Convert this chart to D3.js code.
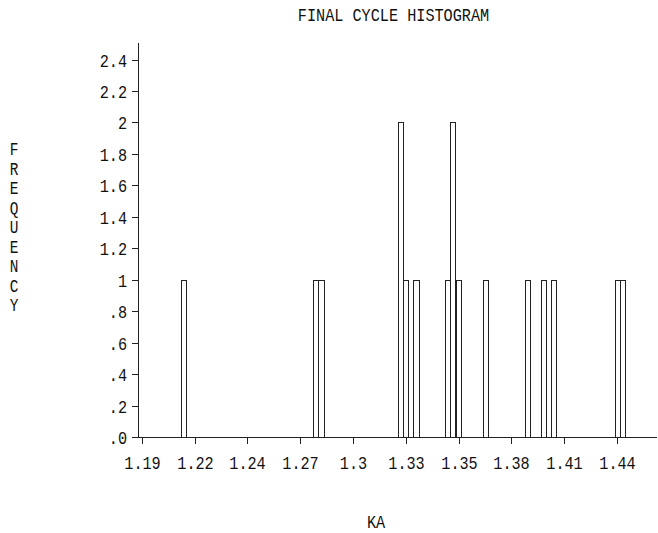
<!DOCTYPE html>
<html>
<head>
<meta charset="utf-8">
<script src="https://cdn.jsdelivr.net/npm/d3@7"></script>
<style>
  html, body { margin: 0; padding: 0; background: #fff; }
  svg { display: block; }
  text { font-family: "Liberation Mono", "DejaVu Sans Mono", monospace; fill: #111; }
</style>
</head>
<body>
<svg id="chart" width="658" height="533"></svg>
<script>
// Histogram bins: left edge of each bin (KA) and the number of cycles in it
const binStart = [1.2093, 1.2781, 1.2809, 1.3223, 1.3251, 1.3304, 1.3467, 1.3496, 1.3525,
                  1.3665, 1.3886, 1.3969, 1.4021, 1.4353, 1.4381];
const binCount = [1, 1, 1, 2, 1, 1, 1, 2, 1, 1, 1, 1, 1, 1, 1];
const binWidth = 0.0028;

// Axis ticks and their printed labels
const xTickValues = [1.189, 1.2165, 1.244, 1.2715, 1.299, 1.3265, 1.354, 1.3815, 1.409, 1.4365];
const xTickLabels = ["1.19", "1.22", "1.24", "1.27", "1.3", "1.33", "1.35", "1.38", "1.41", "1.44"];
const yTickValues = [0, 0.2, 0.4, 0.6, 0.8, 1, 1.2, 1.4, 1.6, 1.8, 2, 2.2, 2.4];
const yTickLabels = [".0", ".2", ".4", ".6", ".8", "1", "1.2", "1.4", "1.6", "1.8", "2", "2.2", "2.4"];

const titleText = "FINAL CYCLE HISTOGRAM";
const xTitle = "KA";
const yTitle = "FREQUENCY";

const svg = d3.select("#chart");
const ink = "#222";
const FONT = 19, SX = 0.8;

const x = d3.scaleLinear().domain([1.189, 1.4365]).range([141.7, 617]);
const y = d3.scaleLinear().domain([0, 2.5]).range([437, 43.8]);
const axisLeft = 138.5, axisRight = 657;

// bars
const bars = binStart.map((s, i) => ({ s, c: binCount[i] }));
svg.append("g").selectAll("rect").data(bars).join("rect")
  .attr("x", d => Math.round(x(d.s)) + 0.5)
  .attr("width", d => Math.round(x(d.s + binWidth)) - Math.round(x(d.s)))
  .attr("y", d => Math.round(y(d.c)) + 0.5)
  .attr("height", d => Math.round(y(0)) - Math.round(y(d.c)))
  .attr("fill", "#fff")
  .attr("stroke", ink)
  .attr("stroke-width", 1)
  .attr("shape-rendering", "crispEdges");

// axes lines
const base = Math.round(y(0)) + 0.5;
svg.append("line")
  .attr("x1", axisLeft).attr("x2", axisLeft)
  .attr("y1", 43).attr("y2", base)
  .attr("stroke", ink).attr("shape-rendering", "crispEdges");
svg.append("line")
  .attr("x1", axisLeft).attr("x2", axisRight)
  .attr("y1", base).attr("y2", base)
  .attr("stroke", ink).attr("shape-rendering", "crispEdges");

// y ticks
const yt = svg.append("g");
yTickValues.forEach((v, i) => {
  const py = Math.round(y(v)) + 0.5;
  yt.append("line").attr("x1", axisLeft - 7).attr("x2", axisLeft)
    .attr("y1", py).attr("y2", py).attr("stroke", ink).attr("shape-rendering", "crispEdges");
  yt.append("text")
    .attr("transform", `translate(127,${py + 6.5}) scale(${SX},1)`)
    .attr("text-anchor", "end")
    .attr("font-size", FONT)
    .text(yTickLabels[i]);
});

// x ticks
const xt = svg.append("g");
xTickValues.forEach((v, i) => {
  const px = Math.round(x(v)) + 0.5;
  xt.append("line").attr("x1", px).attr("x2", px)
    .attr("y1", base).attr("y2", base + 6).attr("stroke", ink).attr("shape-rendering", "crispEdges");
  xt.append("text")
    .attr("transform", `translate(${px},469) scale(${SX},1)`)
    .attr("text-anchor", "middle")
    .attr("font-size", FONT)
    .text(xTickLabels[i]);
});

// titles
svg.append("text")
  .attr("transform", `translate(393.5,21) scale(${SX},1)`)
  .attr("text-anchor", "middle").attr("font-size", FONT)
  .text(titleText);

svg.append("text")
  .attr("transform", `translate(376,528) scale(${SX},1)`)
  .attr("text-anchor", "middle").attr("font-size", FONT)
  .text(xTitle);

const yl = svg.append("g");
yTitle.split("").forEach((ch, i) => {
  yl.append("text")
    .attr("transform", `translate(14,${155 + i * 19.5}) scale(${SX},1)`)
    .attr("text-anchor", "middle").attr("font-size", 18)
    .text(ch);
});
</script>
</body>
</html>
